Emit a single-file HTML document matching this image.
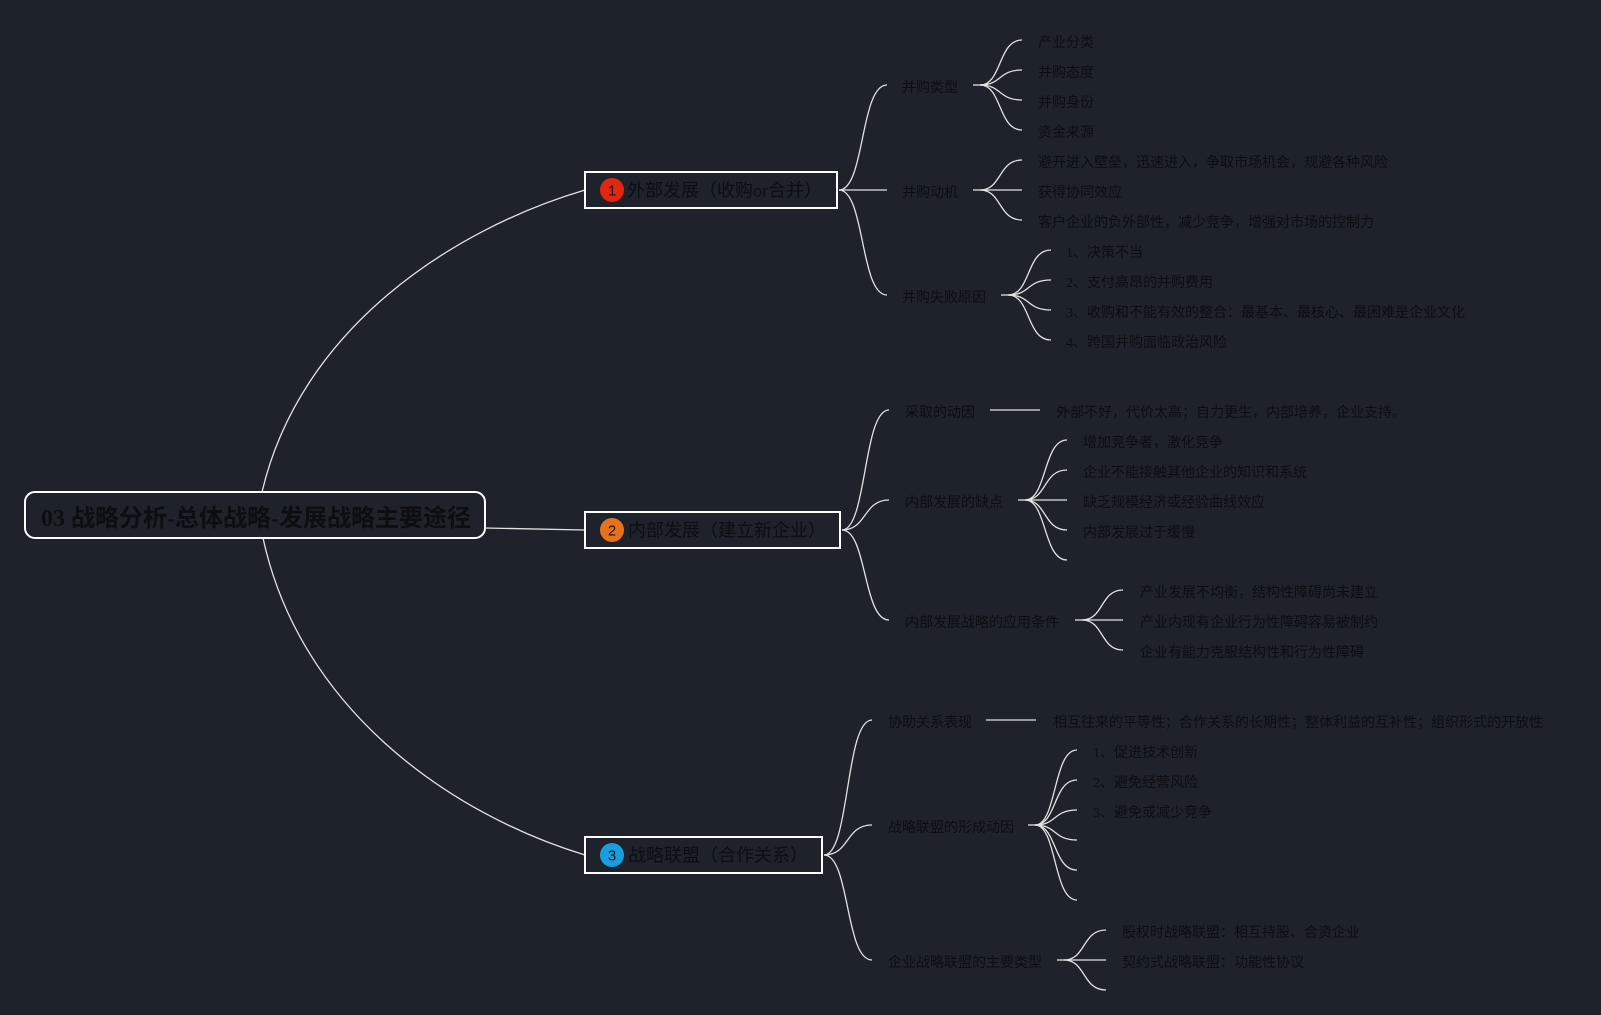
<!DOCTYPE html>
<html>
<head>
<meta charset="utf-8">
<style>
html,body{margin:0;padding:0;background:#1e222b;}
svg{display:block;}
text{font-family:"Liberation Serif","Noto Sans CJK SC",sans-serif;fill:#0c0e12;}
.l2,.l3{font-size:14px;}
.l1{font-size:18px;}
.root{font-size:24px;font-weight:bold;}
.ln{fill:none;stroke:#e2e2e2;stroke-width:1.3;}
.box{fill:none;stroke:#ffffff;stroke-width:2;}
.num{font-family:"Liberation Sans",sans-serif;font-size:15px;fill:#14161b;}
</style>
</head>
<body>
<svg width="1601" height="1015" viewBox="0 0 1601 1015" xmlns="http://www.w3.org/2000/svg">
<rect x="0" y="0" width="1601" height="1015" fill="#1e222b"/>

<!-- root connectors -->
<path class="ln" d="M262,492 C300,330 450,230 585,190"/>
<path class="ln" d="M263,538 C300,709 450,814 585,855"/>
<path class="ln" d="M485,528 L585,530"/>

<!-- root -->
<rect class="box" x="25" y="492" width="460" height="46" rx="10" ry="10"/>
<text class="root" x="41" y="526">03 战略分析-总体战略-发展战略主要途径</text>

<!-- level 1 nodes -->
<rect class="box" x="585" y="172" width="252" height="36"/>
<circle cx="612" cy="190" r="12" fill="#e2260f"/>
<text class="num" x="612" y="195.5" text-anchor="middle">1</text>
<text class="l1" x="627" y="196.5">外部发展（收购or合并）</text>

<rect class="box" x="585" y="512" width="255" height="36"/>
<circle cx="612" cy="530" r="12" fill="#e8721b"/>
<text class="num" x="612" y="535.5" text-anchor="middle">2</text>
<text class="l1" x="628" y="536.5">内部发展（建立新企业）</text>

<rect class="box" x="585" y="837" width="237" height="36"/>
<circle cx="612" cy="855" r="12" fill="#1b9ee0"/>
<text class="num" x="612" y="860.5" text-anchor="middle">3</text>
<text class="l1" x="628" y="861.5">战略联盟（合作关系）</text>

<!-- level 2 connectors: node1 -->
<path class="ln" d="M839,190 C865,190 860,85 887,85"/>
<path class="ln" d="M839,190 L887,190"/>
<path class="ln" d="M839,190 C865,190 860,295 887,295"/>
<!-- node2 -->
<path class="ln" d="M842,530 C867,530 863,410 889,410"/>
<path class="ln" d="M842,530 C867,530 863,500 889,500"/>
<path class="ln" d="M842,530 C867,530 863,620 889,620"/>
<!-- node3 -->
<path class="ln" d="M824,855 C850,855 845,720 872,720"/>
<path class="ln" d="M824,855 C850,855 845,825 872,825"/>
<path class="ln" d="M824,855 C850,855 845,960 872,960"/>

<!-- level 2 texts -->
<text class="l2" x="902" y="92">并购类型</text>
<text class="l2" x="902" y="197">并购动机</text>
<text class="l2" x="902" y="302">并购失败原因</text>
<text class="l2" x="905" y="417">采取的动因</text>
<text class="l2" x="905" y="507">内部发展的缺点</text>
<text class="l2" x="905" y="627">内部发展战略的应用条件</text>
<text class="l2" x="888" y="727">协助关系表现</text>
<text class="l2" x="888" y="832">战略联盟的形成动因</text>
<text class="l2" x="888" y="967">企业战略联盟的主要类型</text>

<!-- 并购类型 -->
<path class="ln" d="M973,85 L980,85"/>
<path class="ln" d="M980,85 C1002,85 998,40 1022,40"/>
<path class="ln" d="M980,85 C1002,85 998,70 1022,70"/>
<path class="ln" d="M980,85 C1002,85 998,100 1022,100"/>
<path class="ln" d="M980,85 C1002,85 998,130 1022,130"/>
<text class="l3" x="1038" y="47">产业分类</text>
<text class="l3" x="1038" y="77">并购态度</text>
<text class="l3" x="1038" y="107">并购身份</text>
<text class="l3" x="1038" y="137">资金来源</text>

<!-- 并购动机 -->
<path class="ln" d="M973,190 L980,190"/>
<path class="ln" d="M980,190 C1002,190 998,160 1022,160"/>
<path class="ln" d="M980,190 L1022,190"/>
<path class="ln" d="M980,190 C1002,190 998,220 1022,220"/>
<text class="l3" x="1038" y="167">避开进入壁垒，迅速进入，争取市场机会，规避各种风险</text>
<text class="l3" x="1038" y="197">获得协同效应</text>
<text class="l3" x="1038" y="227">客户企业的负外部性，减少竞争，增强对市场的控制力</text>

<!-- 并购失败原因 -->
<path class="ln" d="M1001,295 L1008,295"/>
<path class="ln" d="M1008,295 C1031,295 1026,250 1051,250"/>
<path class="ln" d="M1008,295 C1031,295 1026,280 1051,280"/>
<path class="ln" d="M1008,295 C1031,295 1026,310 1051,310"/>
<path class="ln" d="M1008,295 C1031,295 1026,340 1051,340"/>
<text class="l3" x="1066" y="257">1、决策不当</text>
<text class="l3" x="1066" y="287">2、支付高昂的并购费用</text>
<text class="l3" x="1066" y="317">3、收购和不能有效的整合：最基本、最核心、最困难是企业文化</text>
<text class="l3" x="1066" y="347">4、跨国并购面临政治风险</text>

<!-- 采取的动因 -->
<path class="ln" d="M990,410 L1040,410"/>
<text class="l3" x="1056" y="417">外部不好，代价太高；自力更生，内部培养，企业支持。</text>

<!-- 内部发展的缺点 -->
<path class="ln" d="M1018,500 L1025,500"/>
<path class="ln" d="M1025,500 C1047,500 1043,440 1067,440"/>
<path class="ln" d="M1025,500 C1047,500 1043,470 1067,470"/>
<path class="ln" d="M1025,500 L1067,500"/>
<path class="ln" d="M1025,500 C1047,500 1043,530 1067,530"/>
<path class="ln" d="M1025,500 C1047,500 1043,560 1067,560"/>
<text class="l3" x="1083" y="447">增加竞争者，激化竞争</text>
<text class="l3" x="1083" y="477">企业不能接触其他企业的知识和系统</text>
<text class="l3" x="1083" y="507">缺乏规模经济或经验曲线效应</text>
<text class="l3" x="1083" y="537">内部发展过于缓慢</text>

<!-- 应用条件 -->
<path class="ln" d="M1075,620 L1082,620"/>
<path class="ln" d="M1082,620 C1104,620 1100,590 1123,590"/>
<path class="ln" d="M1082,620 L1123,620"/>
<path class="ln" d="M1082,620 C1104,620 1100,650 1123,650"/>
<text class="l3" x="1140" y="597">产业发展不均衡，结构性障碍尚未建立</text>
<text class="l3" x="1140" y="627">产业内现有企业行为性障碍容易被制约</text>
<text class="l3" x="1140" y="657">企业有能力克服结构性和行为性障碍</text>

<!-- 协助关系表现 -->
<path class="ln" d="M986,720 L1036,720"/>
<text class="l3" x="1053" y="727">相互往来的平等性；合作关系的长期性；整体利益的互补性；组织形式的开放性</text>

<!-- 形成动因 -->
<path class="ln" d="M1028,825 L1035,825"/>
<path class="ln" d="M1035,825 C1057,825 1053,750 1077,750"/>
<path class="ln" d="M1035,825 C1057,825 1053,780 1077,780"/>
<path class="ln" d="M1035,825 C1057,825 1053,810 1077,810"/>
<path class="ln" d="M1035,825 C1057,825 1053,840 1077,840"/>
<path class="ln" d="M1035,825 C1057,825 1053,870 1077,870"/>
<path class="ln" d="M1035,825 C1057,825 1053,900 1077,900"/>
<text class="l3" x="1093" y="757">1、促进技术创新</text>
<text class="l3" x="1093" y="787">2、避免经营风险</text>
<text class="l3" x="1093" y="817">3、避免或减少竞争</text>

<!-- 主要类型 -->
<path class="ln" d="M1057,960 L1064,960"/>
<path class="ln" d="M1064,960 C1086,960 1082,930 1106,930"/>
<path class="ln" d="M1064,960 L1106,960"/>
<path class="ln" d="M1064,960 C1086,960 1082,990 1106,990"/>
<text class="l3" x="1122" y="937">股权时战略联盟：相互持股、合资企业</text>
<text class="l3" x="1122" y="967">契约式战略联盟：功能性协议</text>
</svg>
</body>
</html>
